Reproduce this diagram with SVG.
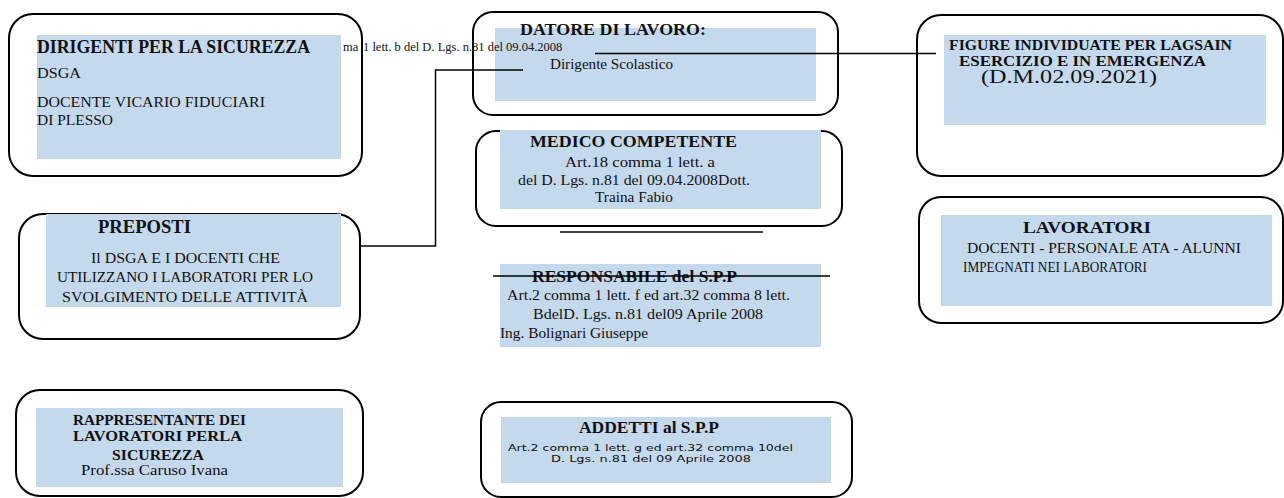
<svg xmlns="http://www.w3.org/2000/svg" width="1284" height="498" viewBox="0 0 1284 498">
<style>
.box{fill:none;stroke:#000;stroke-width:2}
.fill{fill:#c5d9ec}
text{font-family:"Liberation Serif","Times New Roman",serif;fill:#111}
.b{font-weight:bold}
.sans{font-family:"DejaVu Sans Condensed","DejaVu Sans","Liberation Sans",sans-serif}
.con{fill:none;stroke:#000;stroke-width:1.5}
</style>
<rect width="1284" height="498" fill="#fff"/>
<g id="dirigenti">
<rect class="box" x="9" y="14" width="353" height="162" rx="24"/>
<rect class="fill" x="37" y="35" width="304" height="124"/>
<text class="b" x="37" y="53" font-size="18.5" textLength="273" lengthAdjust="spacingAndGlyphs">DIRIGENTI PER LA SICUREZZA</text>
<text x="37" y="78" font-size="15.5" textLength="44" lengthAdjust="spacingAndGlyphs">DSGA</text>
<text x="37" y="107" font-size="15.5" textLength="228" lengthAdjust="spacingAndGlyphs">DOCENTE VICARIO FIDUCIARI</text>
<text x="37" y="125" font-size="15.5" textLength="76" lengthAdjust="spacingAndGlyphs">DI PLESSO</text>
</g>
<g id="datore">
<rect class="box" x="473" y="12" width="365" height="103" rx="20"/>
<rect class="fill" x="495" y="28" width="321" height="73"/>
<text class="b" x="520" y="35" font-size="17" textLength="186" lengthAdjust="spacingAndGlyphs">DATORE DI LAVORO:</text>
<text x="550" y="69" font-size="15.5" textLength="123" lengthAdjust="spacingAndGlyphs">Dirigente Scolastico</text>
</g>
<g id="nota">
<text x="343" y="51" font-size="12.5">ma<tspan x="363">1 lett. b del D. Lgs. n.81 del 09.04.2008</tspan></text>
</g>
<g id="figure">
<rect class="box" x="917" y="15" width="366" height="161" rx="24"/>
<rect class="fill" x="944" y="35" width="322" height="90"/>
<text class="b" x="949" y="50" font-size="15" textLength="283" lengthAdjust="spacingAndGlyphs">FIGURE INDIVIDUATE PER LAGSAIN</text>
<text class="b" x="959" y="66" font-size="15" textLength="247" lengthAdjust="spacingAndGlyphs">ESERCIZIO E IN EMERGENZA</text>
<text x="981" y="83" font-size="18" textLength="176" lengthAdjust="spacingAndGlyphs">(D.M.02.09.2021)</text>
</g>
<g id="medico">
<rect class="box" x="476" y="131" width="366" height="95" rx="20"/>
<rect class="fill" x="500" y="130" width="321" height="79"/>
<text class="b" x="530" y="147" font-size="17" textLength="207" lengthAdjust="spacingAndGlyphs">MEDICO COMPETENTE</text>
<text x="565" y="167" font-size="14.5" textLength="150" lengthAdjust="spacingAndGlyphs">Art.18 comma 1 lett. a</text>
<text x="518" y="185" font-size="14.5" textLength="232" lengthAdjust="spacingAndGlyphs">del D. Lgs. n.81 del 09.04.2008Dott.</text>
<text x="595" y="202" font-size="14.5" textLength="78" lengthAdjust="spacingAndGlyphs">Traina Fabio</text>
</g>
<g id="responsabile">
<rect class="fill" x="500" y="264" width="321" height="83"/>
<text class="b" x="532" y="282" font-size="17.5" textLength="205" lengthAdjust="spacingAndGlyphs">RESPONSABILE del S.P.P</text>
<text x="507" y="300" font-size="14.5" textLength="283" lengthAdjust="spacingAndGlyphs">Art.2 comma 1 lett. f ed art.32 comma 8 lett.</text>
<text x="533" y="319" font-size="14.5" textLength="230" lengthAdjust="spacingAndGlyphs">BdelD. Lgs. n.81 del09 Aprile 2008</text>
<text x="500" y="338" font-size="14.5" textLength="148" lengthAdjust="spacingAndGlyphs">Ing. Bolignari Giuseppe</text>
</g>
<g id="preposti">
<rect class="box" x="19" y="214" width="341" height="125" rx="24"/>
<rect class="fill" x="46" y="214" width="295" height="93"/>
<text class="b" x="98" y="233" font-size="18" textLength="93" lengthAdjust="spacingAndGlyphs">PREPOSTI</text>
<text x="91" y="263" font-size="15" textLength="189" lengthAdjust="spacingAndGlyphs">Il DSGA E I DOCENTI CHE</text>
<text x="57" y="282" font-size="15" textLength="256" lengthAdjust="spacingAndGlyphs">UTILIZZANO I LABORATORI PER LO</text>
<text x="62" y="302" font-size="15" textLength="246" lengthAdjust="spacingAndGlyphs">SVOLGIMENTO DELLE ATTIVITÀ</text>
</g>
<g id="lavoratori">
<rect class="box" x="919" y="197" width="364" height="126" rx="22"/>
<rect class="fill" x="941" y="215" width="331" height="91"/>
<text class="b" x="1023" y="233" font-size="17" textLength="128" lengthAdjust="spacingAndGlyphs">LAVORATORI</text>
<text x="967" y="253" font-size="14.5" textLength="274" lengthAdjust="spacingAndGlyphs">DOCENTI - PERSONALE ATA -  ALUNNI</text>
<text x="963" y="272" font-size="14.5" textLength="184" lengthAdjust="spacingAndGlyphs">IMPEGNATI NEI LABORATORI</text>
</g>
<g id="rappresentante">
<rect class="box" x="16" y="390" width="347" height="106" rx="24"/>
<rect class="fill" x="36" y="408" width="307" height="79"/>
<text class="b" x="73" y="425" font-size="14" textLength="173" lengthAdjust="spacingAndGlyphs">RAPPRESENTANTE DEI</text>
<text class="b" x="73" y="441" font-size="14" textLength="169" lengthAdjust="spacingAndGlyphs">LAVORATORI PERLA</text>
<text class="b" x="112" y="460" font-size="14" textLength="92" lengthAdjust="spacingAndGlyphs">SICUREZZA</text>
<text x="81" y="475" font-size="14" textLength="147" lengthAdjust="spacingAndGlyphs">Prof.ssa Caruso Ivana</text>
</g>
<g id="addetti">
<rect class="box" x="481" y="402" width="371" height="95" rx="20"/>
<rect class="fill" x="501" y="417" width="330" height="66"/>
<text class="b" x="579" y="433" font-size="16" textLength="140" lengthAdjust="spacingAndGlyphs">ADDETTI  al S.P.P</text>
<text class="sans" x="508" y="451" font-size="9.5" textLength="285" lengthAdjust="spacingAndGlyphs">Art.2 comma 1 lett. g ed art.32 comma 10del</text>
<text class="sans" x="551" y="461.5" font-size="9.5" textLength="200" lengthAdjust="spacingAndGlyphs">D. Lgs. n.81 del 09 Aprile 2008</text>
</g>
<g id="connectors">
<line class="con" x1="595" y1="53.5" x2="936" y2="53.5"/>
<polyline class="con" points="523,70 435.5,70 435.5,246 360,246"/>
<line class="con" x1="560" y1="232" x2="763" y2="232" stroke-width="2"/>
<line class="con" x1="493" y1="276" x2="830" y2="276" stroke-width="1.2"/>
</g>
</svg>
